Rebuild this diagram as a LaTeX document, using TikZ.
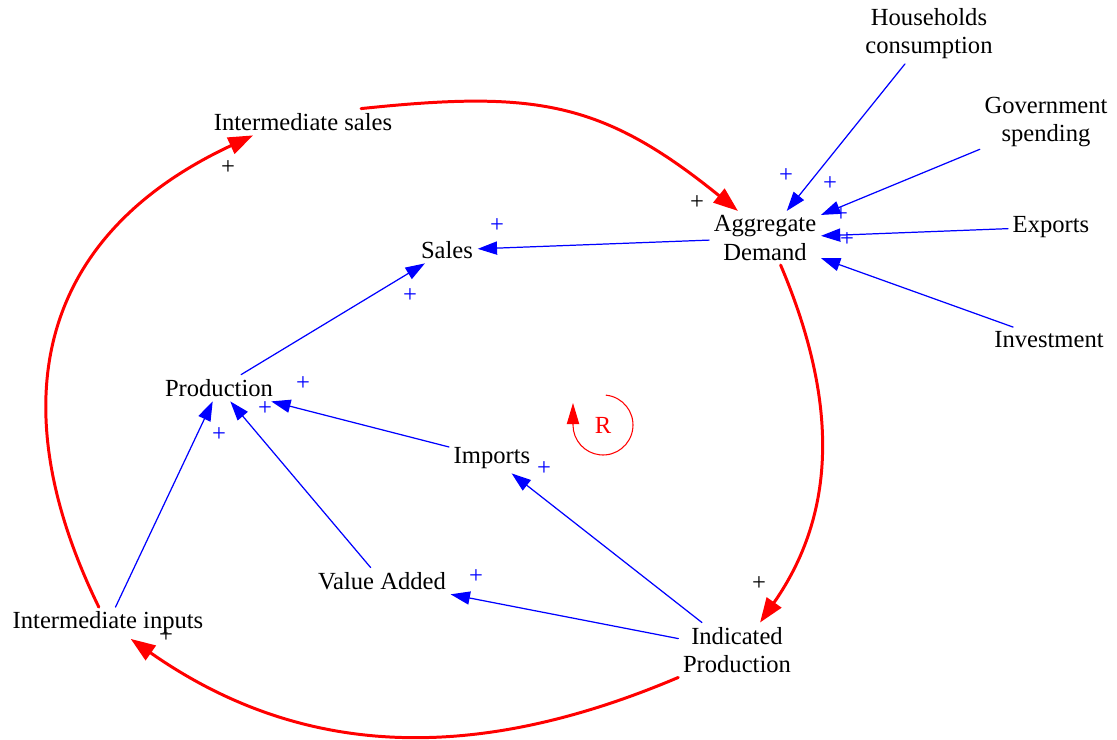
\documentclass[tikz,border=0pt]{standalone}
\usepackage{fontspec}
\setmainfont{Liberation Serif}
\usetikzlibrary{arrows.meta}

\begin{document}
\begin{tikzpicture}[line cap=round,line join=round,x=0.02cm,y=0.02cm,
    var/.style={font=\fontsize{14}{16}\selectfont,align=center,inner sep=2.5pt},
    pol/.style={font=\fontsize{14}{14}\selectfont,inner sep=0pt},
    link/.style={draw=blue,line width=0.7pt,-{Triangle[length=11pt,width=7.5pt]}},
    loopln/.style={draw=red,line width=1.7pt,-{Triangle[length=14pt,width=10pt]}}]
    \useasboundingbox (0,0) rectangle (1117,-740);
    % variables
    \node[var] (hh) at (929,-34) {Households\\consumption};
    \node[var] (gov) at (1046,-122) {Government\\spending};
    \node[var] (exp) at (1051,-227) {Exports};
    \node[var] (inv) at (1049,-340) {Investment};
    \node[var] (ad) at (765,-238) {Aggregate\\Demand};
    \node[var] (sales) at (447,-250) {Sales};
    \node[var] (isales) at (303,-122) {Intermediate sales};
    \node[var] (prod) at (219,-388) {Production};
    \node[var] (imp) at (492,-458) {Imports};
    \node[var] (va) at (382,-581) {Value Added};
    \node[var] (iin) at (108,-623) {Intermediate inputs};
    \node[var] (ip) at (737,-650) {Indicated\\Production};
    % link polarities
    \foreach \x/\y [count=\i] in {786/176,830/184,841/215,847/240,497/226,410/296,
        303/384,265/409,219/435,544/469,476/577}
        \node[pol,text=blue] (pb\i) at (\x,-\y) {+};
    \foreach \x/\y [count=\i] in {697/203,759/584,166/636,228/168}
        \node[pol] (pk\i) at (\x,-\y) {+};
    % causal links
    \draw[link] (hh) -- (ad);
    \draw[link] (gov) -- (ad);
    \draw[link] (exp) -- (ad);
    \draw[link] (inv) -- (ad);
    \draw[link] (ad) -- (sales);
    \draw[link] (prod) -- (sales);
    \draw[link] (imp) -- (prod);
    \draw[link] (va) -- (prod);
    \draw[link] (iin) -- (prod);
    \draw[link] (ip) -- (imp);
    \draw[link] (ip) -- (va);
    % reinforcing loop
    \draw[loopln] (isales.13) to[out=6,in=141,looseness=1.15] (ad.135);
    \draw[loopln] (ad.-60) to[out=-67,in=55] (ip.50);
    \draw[loopln] (ip.south west) to[out=-157,in=-35] (iin.-35);
    \draw[loopln] (iin.120) to[out=116,in=-155,looseness=1.2] (isales.195);
    \node[var,text=red] (r) at (603,-425) {R};
    \draw[red,line width=0.6pt,-{Triangle[length=12pt,width=7pt]}] (r.center) ++(84:30)
        arc[start angle=84,end angle=-180,radius=30] -- ++(0,22);
\end{tikzpicture}
\end{document}
